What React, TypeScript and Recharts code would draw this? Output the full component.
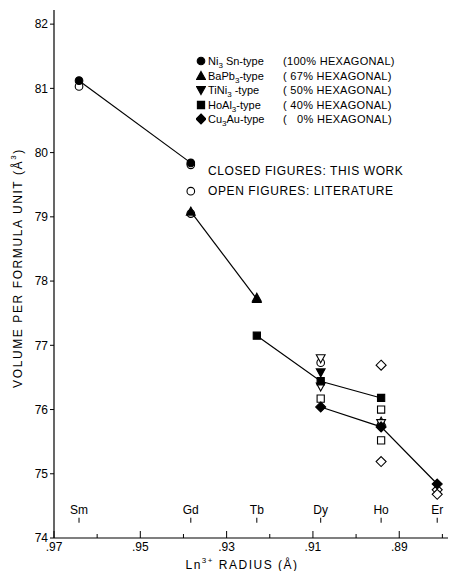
import { ScatterChart, Scatter, XAxis, YAxis, Legend, Label } from "recharts";

const FONT = "'Liberation Sans', Arial, sans-serif";

// lanthanide labels and their Ln3+ radius (Å)
const elements = ["Sm", "Gd", "Tb", "Dy", "Ho", "Er"];
const radii = [0.9642, 0.9383, 0.923, 0.9082, 0.8942, 0.8812];

const xTicks = [0.97, 0.96, 0.95, 0.94, 0.93, 0.92, 0.91, 0.9, 0.89, 0.88];
const xTickLabels = [".97", "", ".95", "", ".93", "", ".91", "", ".89", ""];
const yTicks = [74, 75, 76, 77, 78, 79, 80, 81, 82];

// [element, volume per formula unit]
const ni3snClosed: [string, number][] = [["Sm", 81.12], ["Gd", 79.84]];
const ni3snOpen: [string, number][] = [["Sm", 81.03], ["Gd", 79.81], ["Gd", 79.4], ["Gd", 79.05], ["Dy", 76.73]];
const bapb3Closed: [string, number][] = [["Gd", 79.08], ["Tb", 77.72]];
const bapb3Open: [string, number][] = [["Tb", 77.74], ["Ho", 75.81]];
const tini3Closed: [string, number][] = [["Dy", 76.58]];
const tini3Open: [string, number][] = [["Dy", 76.8], ["Dy", 76.36], ["Ho", 75.79]];
const hoal3Closed: [string, number][] = [["Tb", 77.15], ["Dy", 76.44], ["Ho", 76.18]];
const hoal3Open: [string, number][] = [["Dy", 76.17], ["Ho", 76.0], ["Ho", 75.52]];
const cu3auClosed: [string, number][] = [["Dy", 76.04], ["Ho", 75.73], ["Er", 74.84]];
const cu3auOpen: [string, number][] = [["Ho", 76.69], ["Ho", 75.19], ["Er", 74.75], ["Er", 74.68]];

const toPoints = (rows: [string, number][]) =>
  rows.map(([el, v]) => ({ x: radii[elements.indexOf(el)], y: v }));

const labelRowY = 74.44;
const elementPoints = elements.map((el, i) => ({ x: radii[i], y: labelRowY, name: el }));

type Kind = "circle" | "up" | "down" | "square" | "diamond";

function markerPath(kind: Kind, cx: number, cy: number) {
  switch (kind) {
    case "up":
      return `M${cx},${cy - 4.6}L${cx + 4.4},${cy + 3.4}L${cx - 4.4},${cy + 3.4}Z`;
    case "down":
      return `M${cx},${cy + 4.6}L${cx + 4.4},${cy - 3.4}L${cx - 4.4},${cy - 3.4}Z`;
    case "square":
      return `M${cx - 3.6},${cy - 3.6}h7.2v7.2h-7.2Z`;
    case "diamond":
      return `M${cx},${cy - 5}L${cx + 5},${cy}L${cx},${cy + 5}L${cx - 5},${cy}Z`;
    default:
      return "";
  }
}

function Marker({ kind, filled, cx, cy }: { kind: Kind; filled: boolean; cx: number; cy: number }) {
  const fill = filled ? "#000" : "#fff";
  if (kind === "circle") {
    return <circle cx={cx} cy={cy} r={3.8} fill={fill} stroke="#000" strokeWidth={1.1} />;
  }
  return <path d={markerPath(kind, cx, cy)} fill={fill} stroke="#000" strokeWidth={1.1} />;
}

const shape = (kind: Kind, filled: boolean) => (props: any) => {
  if (props.cx == null || props.cy == null) return <g />;
  return <Marker kind={kind} filled={filled} cx={props.cx} cy={props.cy} />;
};

function ElementLabel(props: any) {
  const { cx, cy, payload } = props;
  if (cx == null) return <g />;
  return (
    <g>
      <text x={cx} y={cy + 4} textAnchor="middle" fontSize={12} fontFamily={FONT} fill="#000">
        {payload.name}
      </text>
      <line x1={cx} x2={cx} y1={cy + 8} y2={cy + 13} stroke="#000" strokeWidth={1} />
    </g>
  );
}

function XTick(props: any) {
  const { x, y, payload } = props;
  const idx = xTicks.findIndex((t) => Math.abs(t - payload.value) < 1e-6);
  const text = idx >= 0 ? xTickLabels[idx] : "";
  return (
    <g>
      <line x1={x} x2={x} y1={y} y2={y - (text ? 7 : 4)} stroke="#000" strokeWidth={1} />
      {text && (
        <text x={x} y={y + 13} textAnchor="middle" fontSize={12} fontFamily={FONT} fill="#000">
          {text}
        </text>
      )}
    </g>
  );
}

function YTitle() {
  return (
    <text
      x={22}
      y={268}
      transform="rotate(-90 22 268)"
      textAnchor="middle"
      fontSize={12}
      fontFamily={FONT}
      letterSpacing={1.6}
      fill="#000"
    >
      VOLUME PER FORMULA UNIT (Å
      <tspan fontSize={8} dy={-6}>3</tspan>
      <tspan dy={6}>)</tspan>
    </text>
  );
}

function XTitle() {
  return (
    <text x={242} y={569} textAnchor="middle" fontSize={12} fontFamily={FONT} letterSpacing={1.5} fill="#000">
      Ln
      <tspan fontSize={8} dy={-6}>3+</tspan>
      <tspan dy={6}>  RADIUS (Å)</tspan>
    </text>
  );
}

const legendRows: { kind: Kind; name: [string, string, string]; pct: string }[] = [
  { kind: "circle", name: ["Ni", "3", " Sn-type"], pct: "(100% HEXAGONAL)" },
  { kind: "up", name: ["BaPb", "3", "-type"], pct: "( 67% HEXAGONAL)" },
  { kind: "down", name: ["TiNi", "3", " -type"], pct: "( 50% HEXAGONAL)" },
  { kind: "square", name: ["HoAl", "3", "-type"], pct: "( 40% HEXAGONAL)" },
  { kind: "diamond", name: ["Cu", "3", "Au-type"], pct: "(   0% HEXAGONAL)" },
];

// zero-height box so the legend does not shrink the plot area
function LegendBox() {
  return (
    <div style={{ position: "relative", width: 230, height: 0, fontFamily: FONT, color: "#000" }}>
      {legendRows.map((r, i) => (
        <div
          key={i}
          style={{ position: "absolute", left: 0, top: i * 14.5, height: 14, lineHeight: "14px", fontSize: 11, whiteSpace: "pre" }}
        >
          <svg width={10} height={12} style={{ position: "absolute", left: 0, top: 1 }}>
            <Marker kind={r.kind} filled cx={5} cy={6} />
          </svg>
          <span style={{ position: "absolute", left: 12 }}>
            {r.name[0]}
            <sub style={{ fontSize: 8 }}>{r.name[1]}</sub>
            {r.name[2]}
          </span>
          <span style={{ position: "absolute", left: 87, letterSpacing: 0.3 }}>{r.pct}</span>
        </div>
      ))}
      <div style={{ position: "absolute", left: 12, top: 110, fontSize: 12, letterSpacing: 0.6, whiteSpace: "pre" }}>
        CLOSED FIGURES: THIS WORK
      </div>
      <div style={{ position: "absolute", left: 12, top: 130, fontSize: 12, letterSpacing: 0.6, whiteSpace: "pre" }}>
        OPEN FIGURES: LITERATURE
      </div>
    </div>
  );
}

const lineStyle = { stroke: "#000", strokeWidth: 1.2 };

export default function App() {
  return (
    <div style={{ position: "absolute", left: 0, top: 0, width: 450, height: 571, background: "#fff" }}>
      <ScatterChart width={450} height={571} margin={{ top: 10, right: 2, bottom: 0, left: 0 }}>
        <XAxis
          type="number"
          dataKey="x"
          domain={[0.8787, 0.97]}
          reversed
          ticks={xTicks}
          interval={0}
          tickSize={0}
          tickMargin={0}
          tick={<XTick />}
          tickLine={false}
          height={33}
          axisLine={{ stroke: "#000", strokeWidth: 1.2 }}
          allowDataOverflow
        >
          <Label content={<XTitle />} />
        </XAxis>
        <YAxis
          type="number"
          dataKey="y"
          domain={[74, 82.22]}
          ticks={yTicks}
          interval={0}
          width={54}
          tickSize={4}
          tickMargin={2}
          tick={{ fontSize: 12, fontFamily: FONT, fill: "#000" }}
          tickLine={{ stroke: "#000" }}
          axisLine={{ stroke: "#000", strokeWidth: 1.2 }}
          allowDataOverflow
        >
          <Label content={<YTitle />} />
        </YAxis>
        <Legend
          content={<LegendBox />}
          wrapperStyle={{ position: "absolute", left: 196, top: 54, width: 230, height: 0 }}
        />

        <Scatter name="elements" data={elementPoints} shape={<ElementLabel />} isAnimationActive={false} legendType="none" />

        <Scatter data={toPoints(ni3snOpen)} shape={shape("circle", false)} isAnimationActive={false} />
        <Scatter data={toPoints(bapb3Open)} shape={shape("up", false)} isAnimationActive={false} />
        <Scatter data={toPoints(tini3Open)} shape={shape("down", false)} isAnimationActive={false} />
        <Scatter data={toPoints(hoal3Open)} shape={shape("square", false)} isAnimationActive={false} />
        <Scatter data={toPoints(cu3auOpen)} shape={shape("diamond", false)} isAnimationActive={false} />

        <Scatter data={toPoints(ni3snClosed)} shape={shape("circle", true)} line={lineStyle} lineType="joint" isAnimationActive={false} />
        <Scatter data={toPoints(bapb3Closed)} shape={shape("up", true)} line={lineStyle} lineType="joint" isAnimationActive={false} />
        <Scatter data={toPoints(tini3Closed)} shape={shape("down", true)} isAnimationActive={false} />
        <Scatter data={toPoints(hoal3Closed)} shape={shape("square", true)} line={lineStyle} lineType="joint" isAnimationActive={false} />
        <Scatter data={toPoints(cu3auClosed)} shape={shape("diamond", true)} line={lineStyle} lineType="joint" isAnimationActive={false} />
      </ScatterChart>
    </div>
  );
}
